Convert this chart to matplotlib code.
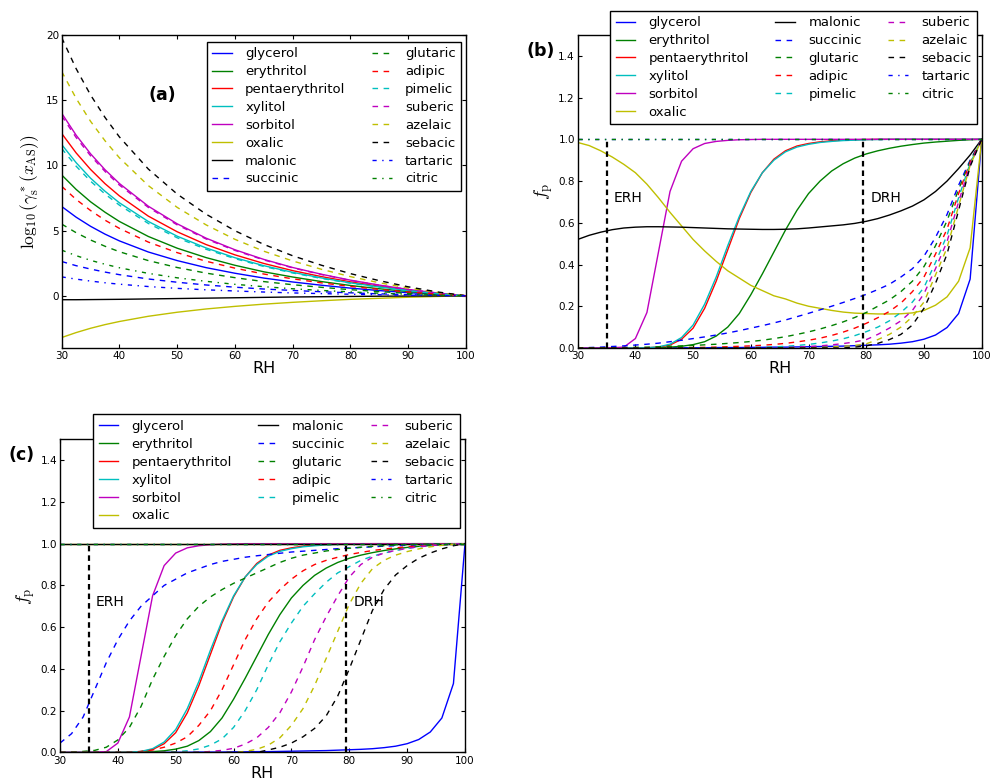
import numpy as np
import matplotlib
matplotlib.use('Agg')
import matplotlib.pyplot as plt

plt.rcParams.update({'font.size': 7.5, 'mathtext.fontset': 'cm',
                     'xtick.direction': 'in', 'ytick.direction': 'in',
                     'xtick.top': True, 'ytick.right': True,
                     'xtick.major.size': 3, 'ytick.major.size': 3,
                     'xtick.minor.size': 0, 'ytick.minor.size': 0,
                     'xtick.major.pad': 2.5, 'ytick.major.pad': 2,
                     'axes.linewidth': 1.0})

names = ['glycerol', 'erythritol', 'pentaerythritol', 'xylitol', 'sorbitol',
         'oxalic', 'malonic', 'succinic', 'glutaric', 'adipic', 'pimelic',
         'suberic', 'azelaic', 'sebacic', 'tartaric', 'citric']
colours = ['b', 'g', 'r', 'c', 'm', 'y', 'k',
           'b', 'g', 'r', 'c', 'm', 'y', 'k', 'b', 'g']
DASH = (0, (4, 4))
DASHDOT = (0, (3, 4, 1, 4))
styles = ['-'] * 7 + [DASH] * 7 + [DASHDOT] * 2

erh, drh = 35, 79.5

# ---- (a) log10 activity coefficient at the AS surface ----
rh_a = [30, 32.5, 35, 37.5, 40, 45, 50, 55, 60, 65, 70, 75, 80, 85, 90, 95, 100]
a_glycerol = [6.85, 6.03, 5.33, 4.73, 4.21, 3.36, 2.70, 2.16, 1.73, 1.36, 1.06, 0.81, 0.59, 0.40, 0.24, 0.11, 0]
a_erythritol = [9.27, 8.16, 7.21, 6.41, 5.70, 4.55, 3.65, 2.93, 2.34, 1.84, 1.44, 1.09, 0.79, 0.54, 0.33, 0.14, 0]
a_pentaerythritol = [12.45, 10.96, 9.69, 8.60, 7.66, 6.11, 4.91, 3.93, 3.14, 2.48, 1.93, 1.47, 1.07, 0.73, 0.44, 0.19, 0]
a_xylitol = [11.6, 10.21, 9.02, 8.02, 7.13, 5.70, 4.57, 3.67, 2.92, 2.31, 1.80, 1.37, 0.99, 0.68, 0.41, 0.18, 0]
a_sorbitol = [14.0, 12.32, 10.89, 9.67, 8.61, 6.87, 5.52, 4.42, 3.53, 2.79, 2.17, 1.65, 1.20, 0.82, 0.49, 0.22, 0]
a_oxalic = [-3.2, -2.82, -2.49, -2.21, -1.97, -1.57, -1.26, -1.01, -0.81, -0.64, -0.50, -0.38, -0.27, -0.19, -0.11, -0.05, 0]
a_malonic = [-0.3, -0.3, -0.29, -0.28, -0.27, -0.24, -0.21, -0.18, -0.15, -0.12, -0.09, -0.07, -0.05, -0.03, -0.02, -0.01, 0]
a_succinic = [2.63, 2.31, 2.05, 1.82, 1.62, 1.29, 1.04, 0.83, 0.66, 0.52, 0.41, 0.31, 0.23, 0.15, 0.09, 0.04, 0]
a_glutaric = [5.5, 4.84, 4.28, 3.80, 3.38, 2.70, 2.17, 1.74, 1.39, 1.09, 0.85, 0.65, 0.47, 0.32, 0.19, 0.08, 0]
a_adipic = [8.4, 7.39, 6.54, 5.80, 5.17, 4.12, 3.31, 2.65, 2.12, 1.67, 1.30, 0.99, 0.72, 0.49, 0.29, 0.13, 0]
a_pimelic = [11.3, 9.94, 8.79, 7.81, 6.95, 5.55, 4.45, 3.57, 2.85, 2.25, 1.75, 1.33, 0.97, 0.66, 0.40, 0.17, 0]
a_suberic = [13.8, 12.14, 10.74, 9.54, 8.49, 6.78, 5.44, 4.36, 3.48, 2.75, 2.14, 1.63, 1.18, 0.81, 0.48, 0.21, 0]
a_azelaic = [17.2, 15.14, 13.38, 11.89, 10.58, 8.45, 6.78, 5.44, 4.33, 3.42, 2.67, 2.03, 1.47, 1.00, 0.60, 0.26, 0]
a_sebacic = [19.8, 17.42, 15.40, 13.68, 12.18, 9.72, 7.80, 6.26, 4.99, 3.94, 3.07, 2.34, 1.70, 1.16, 0.69, 0.30, 0]
a_tartaric = [1.45, 1.28, 1.13, 1.00, 0.89, 0.71, 0.57, 0.46, 0.37, 0.29, 0.22, 0.17, 0.12, 0.08, 0.05, 0.02, 0]
a_citric = [3.5, 3.08, 2.72, 2.42, 2.15, 1.72, 1.38, 1.11, 0.88, 0.70, 0.54, 0.41, 0.30, 0.20, 0.12, 0.05, 0]

# ---- (b), (c) particle-phase fraction f_p ----
rh_fp = [30, 32, 34, 36, 38, 40, 42, 44, 46, 48, 50, 52, 54, 56, 58, 60, 62, 64,
         66, 68, 70, 72, 74, 76, 78, 80, 82, 84, 86, 88, 90, 92, 94, 96, 98, 100]

b_glycerol = [0, 0, 0, 0, 0, 0, 0, 0, 0.001, 0.001, 0.001, 0.001, 0.002, 0.002, 0.002, 0.003,
              0.003, 0.004, 0.004, 0.005, 0.006, 0.007, 0.008, 0.009, 0.011, 0.013, 0.015, 0.018,
              0.023, 0.03, 0.042, 0.062, 0.098, 0.165, 0.33, 1.0]
b_erythritol = [0, 0, 0, 0, 0, 0, 0.001, 0.002, 0.004, 0.008, 0.016, 0.03, 0.057, 0.1, 0.165, 0.255,
                0.355, 0.46, 0.565, 0.66, 0.74, 0.8, 0.848, 0.883, 0.91, 0.93, 0.945, 0.957,
                0.967, 0.975, 0.982, 0.987, 0.991, 0.995, 0.998, 1.0]
b_pentaerythritol = [0, 0, 0, 0, 0, 0, 0.001, 0.004, 0.014, 0.042, 0.095, 0.19, 0.32, 0.47, 0.62, 0.745,
                     0.84, 0.905, 0.945, 0.968, 0.98, 0.988, 0.993, 0.996, 0.998, 0.999, 1, 1,
                     1, 1, 1, 1, 1, 1, 1, 1]
b_xylitol = [0, 0, 0, 0, 0, 0, 0.001, 0.005, 0.018, 0.05, 0.11, 0.21, 0.34, 0.49, 0.63, 0.75,
             0.84, 0.9, 0.94, 0.963, 0.976, 0.985, 0.99, 0.994, 0.996, 0.998, 0.999, 1,
             1, 1, 1, 1, 1, 1, 1, 1]
b_sorbitol = [0, 0, 0, 0.001, 0.004, 0.045, 0.17, 0.46, 0.75, 0.895, 0.955, 0.98, 0.99, 0.995, 0.998, 0.999,
              1, 1, 1, 1, 1, 1, 1, 1, 1, 1, 1, 1, 1, 1, 1, 1, 1, 1, 1, 1]
b_oxalic = [0.985, 0.97, 0.945, 0.915, 0.88, 0.84, 0.785, 0.72, 0.65, 0.585, 0.52, 0.465, 0.415, 0.37, 0.335, 0.30,
            0.275, 0.25, 0.235, 0.215, 0.20, 0.19, 0.18, 0.172, 0.167, 0.165, 0.163, 0.163,
            0.164, 0.168, 0.18, 0.205, 0.245, 0.32, 0.48, 1.0]
b_malonic = [0.52, 0.54, 0.555, 0.567, 0.575, 0.579, 0.581, 0.581, 0.58, 0.579, 0.577, 0.575, 0.573, 0.571, 0.57, 0.569,
             0.568, 0.568, 0.569, 0.571, 0.575, 0.58, 0.585, 0.59, 0.597, 0.607, 0.62, 0.637,
             0.657, 0.68, 0.71, 0.75, 0.8, 0.86, 0.925, 1.0]
b_succinic = [0, 0.002, 0.004, 0.007, 0.01, 0.014, 0.018, 0.023, 0.03, 0.037, 0.045, 0.053, 0.062, 0.072, 0.083, 0.095,
              0.107, 0.12, 0.134, 0.15, 0.166, 0.183, 0.2, 0.218, 0.237, 0.257, 0.28, 0.305,
              0.34, 0.38, 0.44, 0.53, 0.64, 0.78, 0.9, 1.0]
b_glutaric = [0, 0, 0, 0.001, 0.002, 0.003, 0.004, 0.006, 0.008, 0.01, 0.012, 0.015, 0.018, 0.022, 0.026, 0.031,
              0.037, 0.045, 0.054, 0.065, 0.077, 0.091, 0.107, 0.125, 0.146, 0.17, 0.2, 0.23,
              0.27, 0.32, 0.39, 0.49, 0.61, 0.76, 0.895, 1.0]
b_adipic = [0, 0, 0, 0, 0, 0, 0, 0.001, 0.001, 0.001, 0.002, 0.003, 0.004, 0.006, 0.008, 0.01,
            0.013, 0.017, 0.022, 0.029, 0.037, 0.047, 0.06, 0.076, 0.095, 0.118, 0.145, 0.175,
            0.215, 0.27, 0.34, 0.45, 0.57, 0.74, 0.89, 1.0]
b_pimelic = [0, 0, 0, 0, 0, 0, 0, 0, 0, 0, 0, 0, 0, 0.001, 0.001, 0.002,
             0.003, 0.005, 0.008, 0.012, 0.017, 0.024, 0.033, 0.044, 0.059, 0.078, 0.1, 0.13,
             0.17, 0.22, 0.29, 0.41, 0.54, 0.72, 0.885, 1.0]
b_suberic = [0] * 18 + [0.002, 0.004, 0.007, 0.01, 0.015, 0.021, 0.029, 0.04, 0.065, 0.095,
                        0.13, 0.18, 0.26, 0.38, 0.51, 0.7, 0.88, 1.0]
b_azelaic = [0] * 21 + [0.003, 0.005, 0.008, 0.012, 0.02, 0.04, 0.065, 0.1, 0.15,
                        0.22, 0.35, 0.48, 0.68, 0.875, 1.0]
b_sebacic = [0] * 24 + [0.004, 0.01, 0.022, 0.04, 0.065, 0.11, 0.19, 0.31, 0.45, 0.66, 0.87, 1.0]
b_tartaric = [1.0] * 36
b_citric = [1.0] * 36

c_glycerol = b_glycerol
c_erythritol = b_erythritol
c_pentaerythritol = b_pentaerythritol
c_xylitol = b_xylitol
c_sorbitol = b_sorbitol
c_oxalic = [1.0] * 36
c_malonic = [1.0] * 36
c_succinic = [0.045, 0.09, 0.17, 0.3, 0.43, 0.54, 0.63, 0.7, 0.75, 0.8, 0.83, 0.86, 0.88, 0.9, 0.915, 0.925,
              0.935, 0.942, 0.948, 0.954, 0.96, 0.964, 0.968, 0.972, 0.976, 0.979, 0.982, 0.985,
              0.988, 0.99, 0.992, 0.994, 0.996, 0.998, 0.999, 1.0]
c_glutaric = [0, 0.002, 0.005, 0.01, 0.025, 0.06, 0.12, 0.22, 0.35, 0.46, 0.56, 0.64, 0.7, 0.745, 0.78, 0.81,
              0.835, 0.86, 0.885, 0.91, 0.93, 0.945, 0.955, 0.965, 0.972, 0.978, 0.983, 0.987,
              0.99, 0.993, 0.995, 0.997, 0.998, 0.999, 1.0, 1.0]
c_adipic = [0] * 7 + [0.005, 0.012, 0.025, 0.045, 0.075, 0.13, 0.2, 0.3, 0.42, 0.54, 0.64, 0.72,
                      0.78, 0.83, 0.87, 0.9, 0.92, 0.935, 0.948, 0.958, 0.967, 0.974, 0.98,
                      0.985, 0.99, 0.993, 0.996, 0.998, 1.0]
c_pimelic = [0] * 10 + [0.003, 0.008, 0.017, 0.035, 0.065, 0.12, 0.2, 0.3, 0.42, 0.53, 0.62, 0.7,
                        0.76, 0.815, 0.86, 0.89, 0.92, 0.94, 0.955, 0.967, 0.977, 0.985, 0.99,
                        0.995, 0.998, 1.0]
c_suberic = [0] * 13 + [0.005, 0.01, 0.02, 0.04, 0.07, 0.12, 0.19, 0.29, 0.41, 0.54, 0.65, 0.75,
                        0.84, 0.9, 0.935, 0.955, 0.968, 0.978, 0.985, 0.99, 0.995, 0.998, 1.0]
c_azelaic = [0] * 16 + [0.005, 0.015, 0.035, 0.07, 0.13, 0.21, 0.32, 0.45, 0.58, 0.71, 0.81, 0.88,
                        0.92, 0.945, 0.962, 0.975, 0.985, 0.992, 0.997, 1.0]
c_sebacic = [0] * 18 + [0.012, 0.025, 0.045, 0.075, 0.115, 0.175, 0.27, 0.4, 0.54, 0.68, 0.78, 0.85,
                        0.895, 0.93, 0.955, 0.975, 0.99, 1.0]
c_tartaric = [1.0] * 36
c_citric = [1.0] * 36

panel_a = [a_glycerol, a_erythritol, a_pentaerythritol, a_xylitol, a_sorbitol, a_oxalic,
           a_malonic, a_succinic, a_glutaric, a_adipic, a_pimelic, a_suberic, a_azelaic,
           a_sebacic, a_tartaric, a_citric]
panel_b = [b_glycerol, b_erythritol, b_pentaerythritol, b_xylitol, b_sorbitol, b_oxalic,
           b_malonic, b_succinic, b_glutaric, b_adipic, b_pimelic, b_suberic, b_azelaic,
           b_sebacic, b_tartaric, b_citric]
panel_c = [c_glycerol, c_erythritol, c_pentaerythritol, c_xylitol, c_sorbitol, c_oxalic,
           c_malonic, c_succinic, c_glutaric, c_adipic, c_pimelic, c_suberic, c_azelaic,
           c_sebacic, c_tartaric, c_citric]

W, H = 990, 783
fig = plt.figure(figsize=(W / 100, H / 100), dpi=100)
ax_a = fig.add_axes([0.0623, 0.5556, 0.4084, 0.3997])
ax_b = fig.add_axes([0.5835, 0.5556, 0.4081, 0.3997])
ax_c = fig.add_axes([0.0606, 0.0390, 0.4091, 0.4000])


def draw_curves(ax, x, series):
    for name, col, ls, y in zip(names, colours, styles, series):
        ax.plot(x, y, color=col, linestyle=ls, lw=1.0, label=name)


def add_legend(ax, ncol, x0, y0):
    ax.legend(ncol=ncol, loc='upper left', bbox_to_anchor=(x0 / W, 1 - y0 / H),
              bbox_transform=fig.transFigure, borderaxespad=0, fontsize=9.5,
              handlelength=1.5, handletextpad=1.0, labelspacing=0.37,
              columnspacing=2.0, borderpad=0.42, fancybox=False,
              framealpha=1, edgecolor='k')


def fp_panel(ax, series, leg_x, leg_y):
    draw_curves(ax, rh_fp, series)
    for xv in (erh, drh):
        ax.plot([xv, xv], [0, 1], color='k', linestyle=(0, (2.5, 1.8)), lw=1.6)
    ax.text(erh + 1.2, 0.72, 'ERH', fontsize=10, va='center')
    ax.text(drh + 1.2, 0.72, 'DRH', fontsize=10, va='center')
    ax.set_xlim(30, 100)
    ax.set_ylim(0, 1.5)
    ax.set_yticks([0.0, 0.2, 0.4, 0.6, 0.8, 1.0, 1.2, 1.4])
    ax.set_xticks(range(30, 101, 10))
    ax.set_xlabel('RH', fontsize=11.5, labelpad=0)
    ax.set_ylabel(r'$f_{\rm p}$', fontsize=13, labelpad=2.5)
    add_legend(ax, 3, leg_x, leg_y)


# (a)
draw_curves(ax_a, rh_a, panel_a)
ax_a.set_xlim(30, 100)
ax_a.set_ylim(-4, 20)
ax_a.set_yticks([0, 5, 10, 15, 20])
ax_a.set_xticks(range(30, 101, 10))
ax_a.set_xlabel('RH', fontsize=11.5, labelpad=0)
ax_a.set_ylabel(r'$\log_{10}(\gamma_{\rm s}^*(x_{\rm AS}))$', fontsize=12.5, labelpad=3)
add_legend(ax_a, 2, 206.7, 41.7)

# (b), (c)
fp_panel(ax_b, panel_b, 610, 10.7)
fp_panel(ax_c, panel_c, 93, 414.5)

fig.text(162 / W, 1 - 94.5 / H, '(a)', fontsize=12.5, fontweight='bold', ha='center', va='center')
fig.text(540.5 / W, 1 - 50.5 / H, '(b)', fontsize=12.5, fontweight='bold', ha='center', va='center')
fig.text(21.8 / W, 1 - 455.5 / H, '(c)', fontsize=12.5, fontweight='bold', ha='center', va='center')

fig.savefig('out.png', dpi=100)
